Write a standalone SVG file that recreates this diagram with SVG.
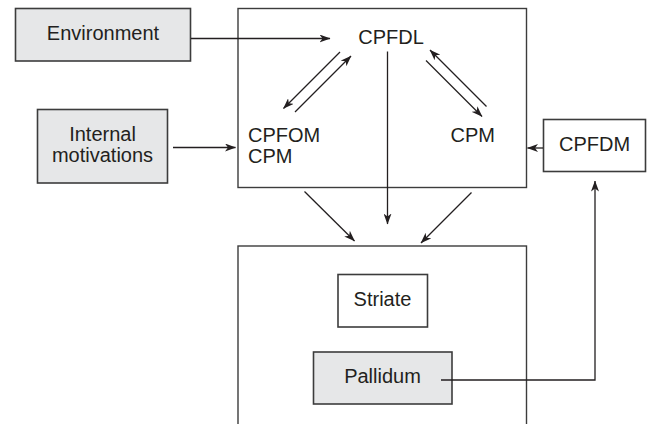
<svg xmlns="http://www.w3.org/2000/svg" width="649" height="424" viewBox="0 0 649 424">
<defs>
<marker id="ah" viewBox="0 0 11 8" refX="10.5" refY="4" markerWidth="11" markerHeight="8" markerUnits="userSpaceOnUse" orient="auto">
<path d="M0,0 L11,4 L0,8 L3,4 z" fill="#231f20"/>
</marker>
<style>
.box{stroke:#3c3c3c;stroke-width:1.6}
.g{fill:#e6e7e8}
.w{fill:#ffffff}
.big{fill:none;stroke:#3c3c3c;stroke-width:1.4}
.t{font-family:"Liberation Sans",Arial,sans-serif;font-size:20px;fill:#231f20}
.c{text-anchor:middle}
.ln{fill:none;stroke:#231f20;stroke-width:1.3}
.ar{marker-end:url(#ah)}
</style>
</defs>
<rect width="649" height="424" fill="#ffffff"/>
<g id="cortex">
<rect class="big" x="238" y="8.5" width="288.5" height="179"/>
<text class="t c" x="391" y="44">CPFDL</text>
<text class="t" x="248" y="141.5">CPFOM</text>
<text class="t" x="248" y="162.5">CPM</text>
<text class="t" x="450.5" y="141.5">CPM</text>
</g>
<g id="basal-ganglia">
<rect class="big" x="238" y="246" width="288.5" height="200"/>
</g>
<g id="environment">
<rect class="box g" x="15.5" y="8.5" width="175" height="52.5"/>
<text class="t c" x="103" y="40">Environment</text>
</g>
<g id="internal-motivations">
<rect class="box g" x="37.5" y="109.5" width="130" height="73.5"/>
<text class="t c" x="102.5" y="140.5">Internal</text>
<text class="t c" x="102.5" y="161.5">motivations</text>
</g>
<g id="cpfdm">
<rect class="box w" x="543.5" y="119.5" width="102" height="52"/>
<text class="t c" x="594.5" y="151">CPFDM</text>
</g>
<g id="striate">
<rect class="box w" x="338" y="274.5" width="89.5" height="52.5"/>
<text class="t c" x="382.5" y="306">Striate</text>
</g>
<g id="pallidum">
<rect class="box g" x="313.5" y="352" width="138.5" height="52"/>
<text class="t c" x="382.5" y="383">Pallidum</text>
</g>
<g id="connectors">
<line class="ln ar" x1="191" y1="38.5" x2="330" y2="38.5"/>
<line class="ln ar" x1="173" y1="147.5" x2="235.5" y2="147.5"/>
<line class="ln ar" x1="543" y1="148" x2="527.5" y2="148"/>
<line class="ln ar" x1="340" y1="52" x2="283.5" y2="108.5"/>
<line class="ln ar" x1="295" y1="112" x2="351" y2="56"/>
<line class="ln ar" x1="426" y1="60.5" x2="482" y2="116.5"/>
<line class="ln ar" x1="486.5" y1="106.5" x2="430" y2="50"/>
<line class="ln ar" x1="387.5" y1="51.5" x2="387.5" y2="224"/>
<line class="ln ar" x1="304.5" y1="191.5" x2="354.5" y2="241"/>
<line class="ln ar" x1="471.5" y1="192.5" x2="421" y2="243"/>
<polyline class="ln ar" points="441,380 595,380 595,181"/>
</g>
</svg>
